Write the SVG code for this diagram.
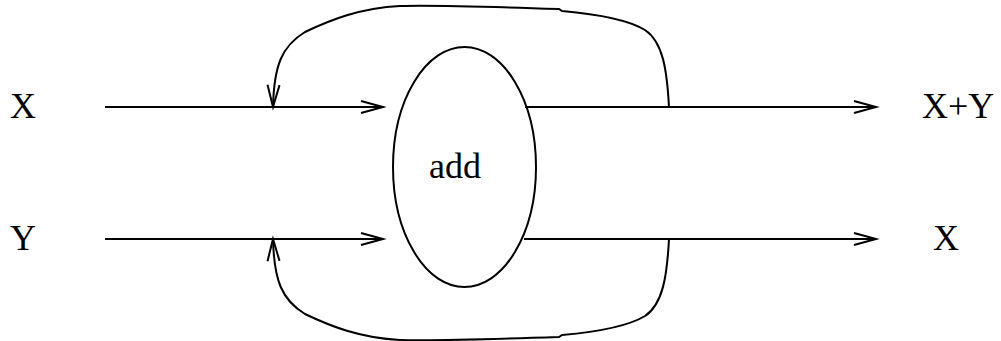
<svg xmlns="http://www.w3.org/2000/svg" width="1001" height="341" viewBox="0 0 1001 341">
<style>
.l{fill:none;stroke:#000;stroke-width:2}
.t{font-family:"Liberation Serif",serif;font-size:36px;fill:#000}
</style>
<defs>
<marker id="a" markerUnits="userSpaceOnUse" markerWidth="30" markerHeight="20" refX="22" refY="6" orient="auto" overflow="visible">
<path d="M0,0 L22,6 L0,12" fill="none" stroke="#000" stroke-width="2"/>
</marker>
</defs>
<rect width="1001" height="341" fill="#fff"/>
<g id="connectors">
<line class="l" x1="105" y1="107" x2="383" y2="107" marker-end="url(#a)"/>
<line class="l" x1="105" y1="239" x2="383" y2="239" marker-end="url(#a)"/>
<line class="l" x1="525" y1="107" x2="876" y2="107" marker-end="url(#a)"/>
<line class="l" x1="524" y1="239" x2="876" y2="239" marker-end="url(#a)"/>
<path class="l" d="M669,107 C667,70 663,42 645,30 C625,18 585,13 562,11 L559,9 C500,7 430,5 400,6 C360,8 330,20 305,32 C282,46 274,65 273,107" marker-end="url(#a)"/>
<path class="l" d="M669,239 C667,276 663,304 645,316 C625,328 585,333 562,335 L559,337 C500,339 430,341 400,340 C360,338 330,326 305,314 C282,300 274,281 273,239" marker-end="url(#a)"/>
</g>
<g id="add">
<ellipse class="l" cx="464.5" cy="167" rx="71.5" ry="120"/>
<text class="t" x="455" y="178" text-anchor="middle">add</text>
</g>
<g id="inX"><text class="t" x="10" y="118">X</text></g>
<g id="inY"><text class="t" x="10" y="250">Y</text></g>
<g id="outXY"><text class="t" x="922" y="118">X+Y</text></g>
<g id="outX"><text class="t" x="933" y="250">X</text></g>
</svg>
